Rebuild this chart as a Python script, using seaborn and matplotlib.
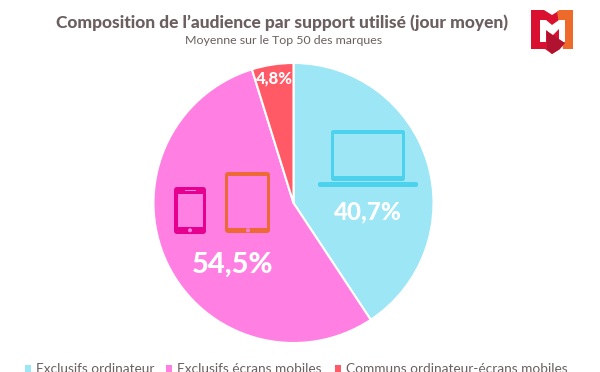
import matplotlib
matplotlib.use("Agg")
import matplotlib.pyplot as plt
from matplotlib.patches import FancyBboxPatch, Polygon, Circle, Rectangle
import seaborn as sns

categories = ["Exclusifs ordinateur", "Exclusifs écrans mobiles", "Communs ordinateur-écrans mobiles"]
values = [40.7, 54.5, 4.8]
value_labels = ["40,7%", "54,5%", "4,8%"]
colors = ["#9CE6F5", "#FF7FE3", "#FF5A66"]
title = "Composition de l’audience par support utilisé (jour moyen)"
subtitle = "Moyenne sur le Top 50 des marques"

sns.set_theme(style="white")
plt.rcParams["font.family"] = ["Lato", "DejaVu Sans"]
palette = sns.color_palette(colors)

fig = plt.figure(figsize=(6, 3.72), dpi=100, facecolor="white")

W, H = 600, 372
pie_ax = fig.add_axes([(293.5-140)/W, 1-(203+140)/H, 280/W, 280/H])
pie_ax.pie(values, colors=palette, startangle=90, counterclock=False, radius=1,
           wedgeprops=dict(edgecolor="white", linewidth=1.5))
pie_ax.set_xlim(-1, 1); pie_ax.set_ylim(-1, 1)
pie_ax.set_aspect("equal")

ov = fig.add_axes([0, 0, 1, 1], facecolor="none")
ov.set_xlim(0, W); ov.set_ylim(H, 0); ov.axis("off")

ink = "#6B5F5F"
ov.text(282.5, 23, title, ha="center", va="center", fontsize=12.5, fontweight="black", color=ink)
ov.text(284, 41, subtitle, ha="center", va="center", fontsize=8.9, color=ink)

def rbox(x0, y0, x1, y1, r, **kw):
    ov.add_patch(FancyBboxPatch((x0+r, y0+r), x1-x0-2*r, y1-y0-2*r,
                                boxstyle=f"round,pad={r},rounding_size={r}", linewidth=0, **kw))

# laptop
lap = "#4DD2EE"
rbox(331, 130, 405, 181, 2.5, facecolor=lap)
ov.add_patch(Polygon([(334, 134), (402, 134), (402, 176), (334, 176)], facecolor=colors[0], linewidth=0))
rbox(318, 182, 418, 187, 2, facecolor=lap)

# phone
ph = "#E6008F"
rbox(174, 187, 206, 234, 3, facecolor=ph)
ov.add_patch(Rectangle((178, 194), 25, 33, facecolor=colors[1], linewidth=0))
ov.add_patch(Rectangle((185, 190), 11, 1, facecolor=colors[1], linewidth=0))
ov.add_patch(Circle((190, 230.3), 2, facecolor=colors[1], linewidth=0))

# tablet
tb = "#EE6A35"
rbox(225, 172, 270, 233, 3, facecolor=tb)
ov.add_patch(Rectangle((228, 176), 39, 52, facecolor=colors[1], linewidth=0))
ov.add_patch(Circle((248, 230.4), 2, facecolor=colors[1], linewidth=0))

# value labels
ov.text(366.5, 212, value_labels[0], ha="center", va="center", fontsize=17.5, fontweight="black", color="white")
ov.text(232.5, 265, value_labels[1], ha="center", va="center", fontsize=21, fontweight="black", color="white")
ov.text(274.5, 78, value_labels[2], ha="center", va="center", fontsize=12, fontweight="black", color="white")

# legend
leg_sq = [25, 166, 335]
leg_tx = [36.5, 177, 346]
for c, name, xs, xt in zip(palette, categories, leg_sq, leg_tx):
    ov.add_patch(Rectangle((xs, 365), 6, 7, facecolor=c, linewidth=0))
    ov.text(xt, 369, name, ha="left", va="center", fontsize=9.85, color=ink, clip_on=True)

# logo
ov.add_patch(Polygon([(531,10),(544,10),(552,15),(560,10),(560,49),(560,49),(552,54),(545,49),(531,49)],
                     facecolor="#D9102F", linewidth=0))
ov.add_patch(Polygon([(557,11.5),(560,10),(573,10),(573,49),(563,49)], facecolor="#EE6A2A", linewidth=0))
ov.add_patch(Polygon([(540,20),(546,20),(552,25),(559,20),(565,20),(565,42),(559,42),(559,29),(552,36),(546,30),(546,42),(540,42)],
                     facecolor="white", linewidth=0))
ov.add_patch(Polygon([(547,31),(565,43),(560,49),(552,54),(547,49)], facecolor="#B0122F", linewidth=0))

fig.savefig("out.png", dpi=100)
